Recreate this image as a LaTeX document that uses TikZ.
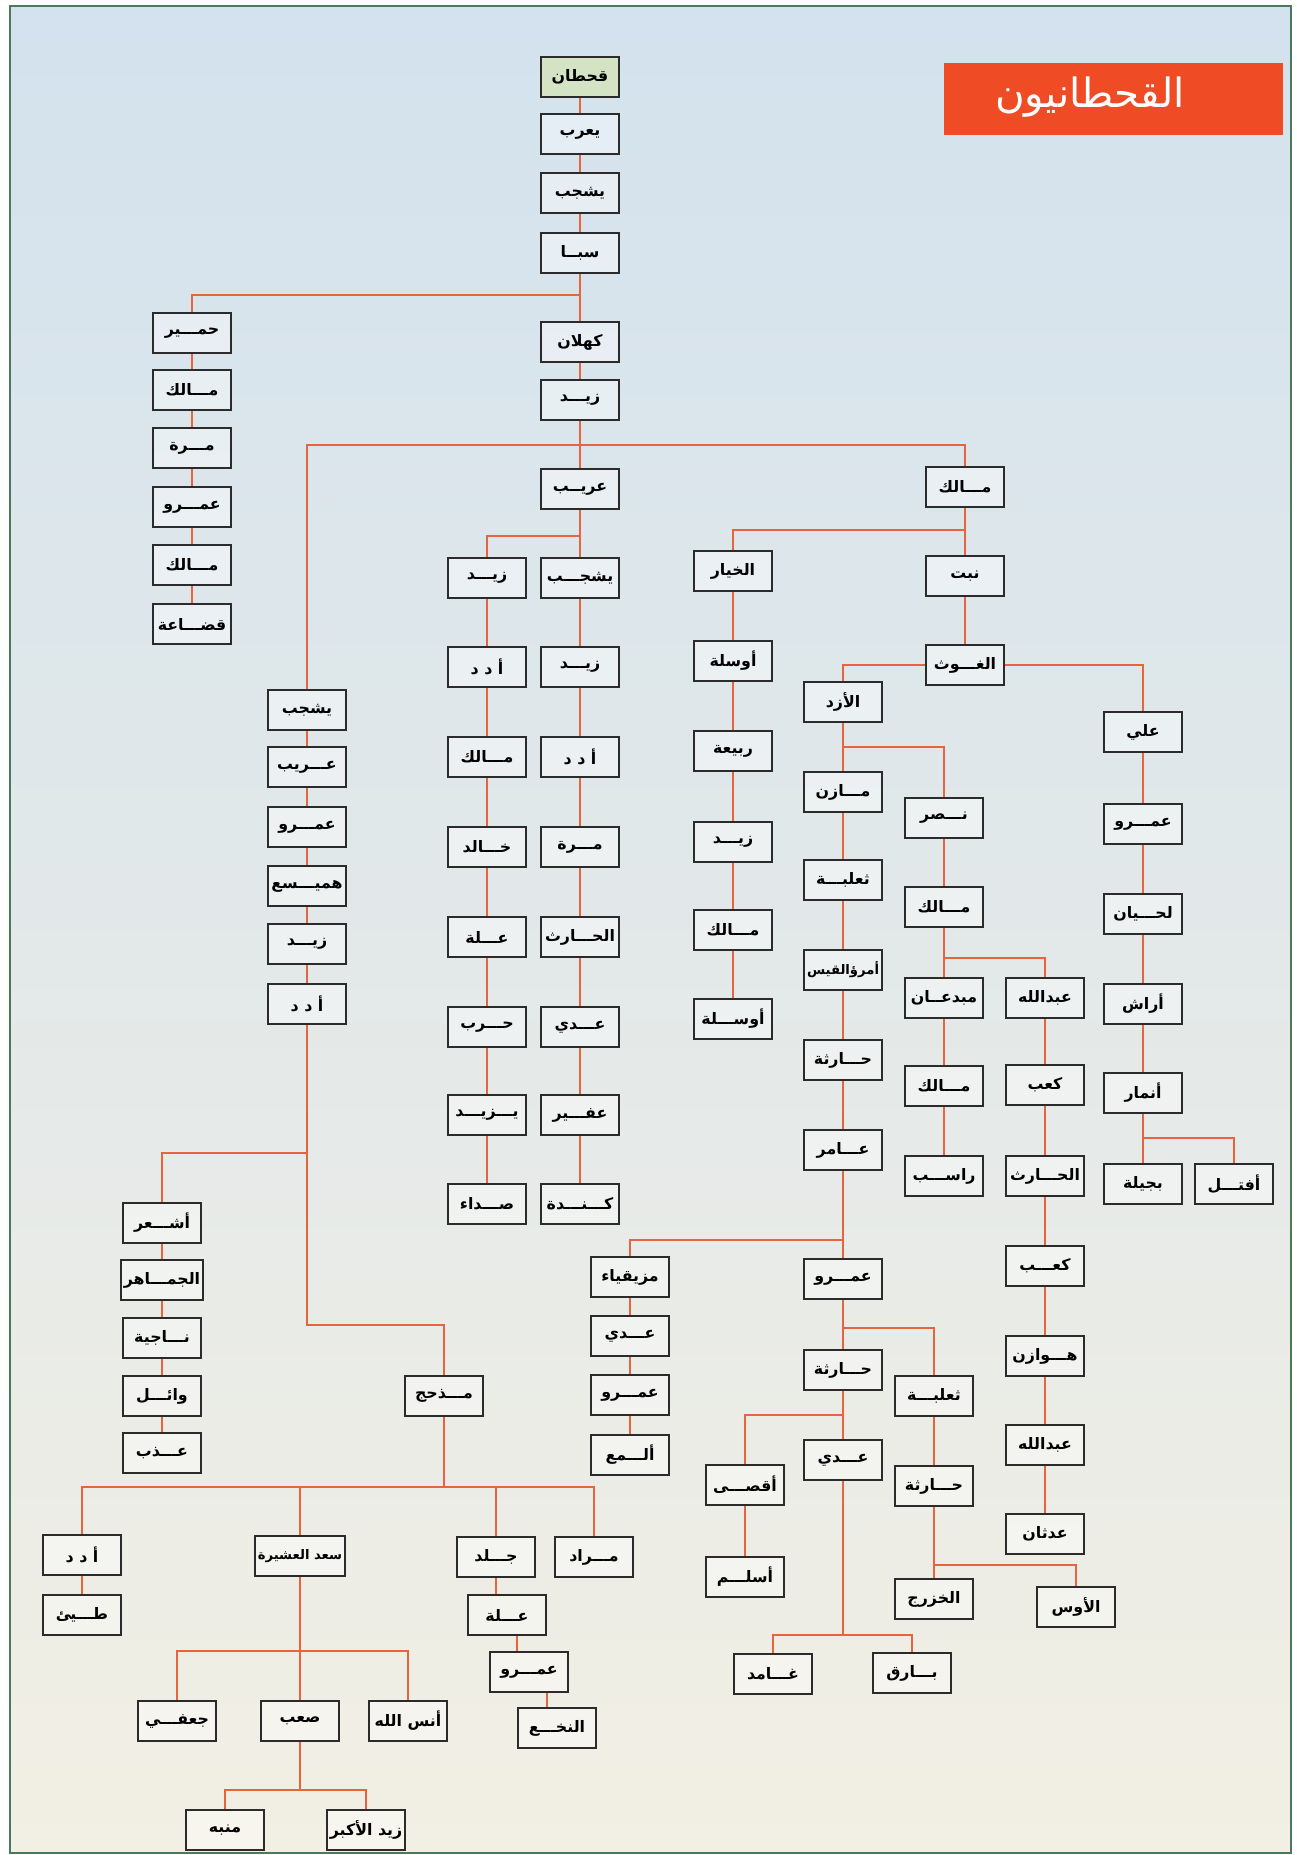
\documentclass[tikz,border=0pt]{standalone}
\usepackage{fontspec}
\newfontfamily\arabicfont[Script=Arabic]{DejaVu Sans}
\TeXXeTstate=1

\tikzset{
    person/.style={draw=boxColour, line width=1.25pt, fill=white, fill opacity=0.4, text opacity=1,
        minimum width=1.56cm, minimum height=0.8cm, inner sep=1.5pt,
        font=\arabicfont\bfseries\fontsize{9}{10}\selectfont,
        execute at begin node=\beginR, execute at end node=\endR},
    longname/.style={font=\arabicfont\bfseries\fontsize{7.5}{9}\selectfont},
    link/.style={draw=lineColour, line width=1.1pt},
}

\begin{document}
\begin{tikzpicture}[x=0.02cm, y=-0.02cm]
    \definecolor{boxColour}{HTML}{2B2B2B}
    \definecolor{lineColour}{HTML}{E8643F}
    \definecolor{rootFill}{HTML}{D3E3C4}
    \definecolor{titleColour}{HTML}{EF4B24}
    \definecolor{frameColour}{HTML}{4A7A5A}
    \definecolor{bgTop}{HTML}{D3E2EE}
    \definecolor{bgMid}{HTML}{E5EBEE}
    \definecolor{bgBottom}{HTML}{F2EFE4}

    % Page and frame
    \fill[white] (0,0) rectangle (1296,1855);
    \shade[top color=bgTop, middle color=bgMid, bottom color=bgBottom] (10,6) rectangle (1291,1853);
    \draw[frameColour, line width=1.3pt] (10,6) rectangle (1291,1853);
    \useasboundingbox (0,0) rectangle (1296,1855);

    % Title
    \fill[titleColour] (944,63) rectangle (1283,135);
    \node[text=white, font=\arabicfont\fontsize{23}{25}\selectfont] (title) at (1090,97) {\beginR القحطانيون\endR};

    % Qahtan down to Urayb
    \node[person, fill=rootFill, fill opacity=1] (qahtan) at (580,77) {قحطان};
    \foreach \nm/\yy/\tx in {yarub/134/يعرب, yashjub/193/يشجب, saba/253/سبــا, kahlan/342/كهلان,
                              zaydA/400/زيـــد, urayb/489/عريــب}
        \node[person] (\nm) at (580,\yy) {\tx};

    % Himyar line
    \foreach \nm/\yy/\tx in {himyar/333/حمـــير, malikHa/390/مـــالك, murraH/448/مـــرة,
                              amrH/507/عمـــرو, malikHb/565/مـــالك, qudaa/624/قضـــاعة}
        \node[person] (\nm) at (192,\yy) {\tx};

    % Yashjub son of Zayd
    \foreach \nm/\yy/\tx in {yashjubB/710/يشجب, uraybB/767/عـــريب, amrB/827/عمـــرو,
                              hamaysa/886/هميـــسع, zaydB/944/زيـــد, adadB/1004/أ د د}
        \node[person] (\nm) at (307,\yy) {\tx};

    % Ashar
    \foreach \nm/\yy/\tx in {ashar/1223/أشـــعر, jamahir/1280/الجمـــاهر, najiya/1338/نـــاجية,
                              wail/1396/وائـــل, udhr/1453/عـــذب}
        \node[person] (\nm) at (162,\yy) {\tx};

    % Madhhij
    \node[person] (madhhij) at (444,1396) {مـــذحج};
    \node[person] (adadM) at (82,1555) {أ د د};
    \node[person] (tayy) at (82,1615) {طـــيئ};
    \node[person, longname] (saad) at (300,1556) {سعد العشيرة};
    \node[person] (jald) at (496,1557) {جـــلد};
    \node[person] (murad) at (594,1557) {مـــراد};
    \node[person] (jufi) at (177,1721) {جعفـــي};
    \node[person] (sab) at (300,1721) {صعب};
    \node[person] (anas) at (408,1721) {أنس الله};
    \node[person] (munabbih) at (225,1830) {منبه};
    \node[person] (zaydAkbar) at (366,1830) {زيد الأكبر};
    \node[person] (ala) at (507,1615) {عـــلة};
    \node[person] (amrN) at (529,1672) {عمـــرو};
    \node[person] (nakha) at (557,1728) {النخـــع};

    % Sons of Urayb
    \foreach \nm/\yy/\tx in {zaydU/578/زيـــد, adadU/667/أ د د, malikU/757/مـــالك, khalid/847/خـــالد,
                              alaU/937/عـــلة, harb/1027/حـــرب, yazid/1115/يـــزيـــد, suda/1204/صـــداء}
        \node[person] (\nm) at (487,\yy) {\tx};
    \foreach \nm/\yy/\tx in {yashjubU/578/يشجـــب, zaydUb/667/زيـــد, adadUb/757/أ د د, murraU/847/مـــرة,
                              harith/937/الحـــارث, adiU/1027/عـــدي, ufayr/1115/عفـــير, kinda/1204/كـــنـــدة}
        \node[person] (\nm) at (580,\yy) {\tx};

    % Khiyar
    \foreach \nm/\yy/\tx in {khiyar/571/الخيار, awsala/661/أوسلة, rabia/751/ربيعة, zaydK/842/زيـــد,
                              malikK/930/مـــالك, awsalaB/1019/أوســـلة}
        \node[person] (\nm) at (733,\yy) {\tx};

    % Malik, Nabt, Ghawth
    \foreach \nm/\yy/\tx in {malikT/487/مـــالك, nabt/576/نبت, ghawth/665/الغـــوث}
        \node[person] (\nm) at (965,\yy) {\tx};

    % Azd
    \foreach \nm/\yy/\tx in {azd/702/الأزد, mazin/792/مـــازن, thalaba/880/ثعلبـــة,
                              haritha/1060/حـــارثة, amir/1150/عـــامر, amrZ/1279/عمـــرو,
                              harithaZ/1370/حـــارثة, adiZ/1460/عـــدي}
        \node[person] (\nm) at (843,\yy) {\tx};
    \node[person, longname] (imru) at (843,970) {أمرؤالقيس};
    \foreach \nm/\yy/\tx in {mazikiya/1277/مزيقياء, adiM/1336/عـــدي, amrM/1395/عمـــرو, alma/1455/ألـــمع}
        \node[person] (\nm) at (630,\yy) {\tx};
    \node[person] (aqsa) at (745,1485) {أقصـــى};
    \node[person] (aslam) at (745,1577) {أسلـــم};
    \node[person] (ghamid) at (773,1674) {غـــامد};
    \node[person] (bariq) at (912,1673) {بـــارق};
    \foreach \nm/\yy/\tx in {thalabaZ/1396/ثعلبـــة, harithaT/1486/حـــارثة, khazraj/1599/الخزرج}
        \node[person] (\nm) at (934,\yy) {\tx};
    \node[person] (aws) at (1076,1607) {الأوس};

    % Nasr
    \foreach \nm/\yy/\tx in {nasr/818/نـــصر, malikN/907/مـــالك, mubdian/998/مبدعــان,
                              malikM/1086/مـــالك, rasib/1176/راســـب}
        \node[person] (\nm) at (944,\yy) {\tx};
    \foreach \nm/\yy/\tx in {abdallah/998/عبدالله, kab/1085/كعب, harithK/1176/الحـــارث, kabB/1266/كعـــب,
                              hawazin/1356/هـــوازن, abdallahB/1445/عبدالله, adthan/1534/عدثان}
        \node[person] (\nm) at (1045,\yy) {\tx};

    % Ali
    \foreach \nm/\yy/\tx in {ali/732/علي, amrA/824/عمـــرو, lihyan/914/لحـــيان, arash/1004/أراش,
                              anmar/1093/أنمار, bajila/1184/بجيلة}
        \node[person] (\nm) at (1143,\yy) {\tx};
    \node[person] (aftal) at (1234,1184) {أفتـــل};

    % Straight links
    \foreach \a/\b in {qahtan/yarub, yarub/yashjub, yashjub/saba, saba/kahlan, kahlan/zaydA, zaydA/urayb,
                       himyar/malikHa, malikHa/murraH, murraH/amrH, amrH/malikHb, malikHb/qudaa,
                       yashjubB/uraybB, uraybB/amrB, amrB/hamaysa, hamaysa/zaydB, zaydB/adadB,
                       ashar/jamahir, jamahir/najiya, najiya/wail, wail/udhr, adadM/tayy, saad/sab,
                       urayb/yashjubU, zaydU/adadU, adadU/malikU, malikU/khalid, khalid/alaU,
                       alaU/harb, harb/yazid, yazid/suda, yashjubU/zaydUb, zaydUb/adadUb,
                       adadUb/murraU, murraU/harith, harith/adiU, adiU/ufayr, ufayr/kinda,
                       khiyar/awsala, awsala/rabia, rabia/zaydK, zaydK/malikK, malikK/awsalaB,
                       malikT/nabt, nabt/ghawth, azd/mazin, mazin/thalaba, thalaba/imru,
                       imru/haritha, haritha/amir, amir/amrZ, amrZ/harithaZ, harithaZ/adiZ,
                       mazikiya/adiM, adiM/amrM, amrM/alma, aqsa/aslam, thalabaZ/harithaT,
                       harithaT/khazraj, nasr/malikN, malikN/mubdian, mubdian/malikM, malikM/rasib,
                       abdallah/kab, kab/harithK, harithK/kabB, kabB/hawazin, hawazin/abdallahB,
                       abdallahB/adthan, ali/amrA, amrA/lihyan, lihyan/arash, arash/anmar, anmar/bajila}
        \draw[link] (\a) -- (\b);

    % Branch points
    \coordinate (jSaba) at (580,295);
    \coordinate (jZayd) at (580,445);
    \coordinate (jUrayb) at (580,536);
    \coordinate (jMalik) at (965,530);
    \coordinate (jAzd) at (843,747);
    \coordinate (jAmir) at (843,1240);
    \coordinate (jAmr) at (843,1328);
    \coordinate (jHaritha) at (843,1415);
    \coordinate (jAdi) at (843,1635);
    \coordinate (jHarT) at (934,1565);
    \coordinate (jMalikN) at (944,958);
    \coordinate (jAnmar) at (1143,1138);
    \coordinate (jAdad) at (307,1153);
    \coordinate (jAdadB) at (307,1325);
    \coordinate (jMad) at (444,1487);
    \coordinate (jSaad) at (300,1651);
    \coordinate (jSab) at (300,1790);

    \draw[link] (jSaba) -| (himyar.north);
    \draw[link] (yashjubB.north) |- (jZayd) -| (malikT.north);
    \draw[link] (jUrayb) -| (zaydU.north);
    \draw[link] (jMalik) -| (khiyar.north);
    \draw[link] (ghawth.west) -| (azd.north);
    \draw[link] (ghawth.east) -| (ali.north);
    \draw[link] (jAzd) -| (nasr.north);
    \draw[link] (jAmir) -| (mazikiya.north);
    \draw[link] (jAmr) -| (thalabaZ.north);
    \draw[link] (jHaritha) -| (aqsa.north);
    \draw[link] (adiZ) -- (jAdi);
    \draw[link] (ghamid.north) |- (jAdi) -| (bariq.north);
    \draw[link] (jHarT) -| (aws.north);
    \draw[link] (jMalikN) -| (abdallah.north);
    \draw[link] (jAnmar) -| (aftal.north);

    % Adad to Ashar and Madhhij
    \draw[link] (adadB) -- (jAdadB) -| (madhhij.north);
    \draw[link] (jAdad) -| (ashar.north);
    \draw[link] (madhhij) -- (jMad);
    \draw[link] (adadM.north) |- (jMad) -| (murad.north);
    \draw[link] (saad.north) -- (saad.north |- jMad);
    \draw[link] (jald.north) -- (jald.north |- jMad);
    \draw[link] (jufi.north) |- (jSaad) -| (anas.north);
    \draw[link] (sab) -- (jSab);
    \draw[link] (munabbih.north) |- (jSab) -| (zaydAkbar.north);
    \draw[link] (jald.south) -- (jald.south |- ala.north);
    \draw[link] ([xshift=0.2cm]ala.south) -- ([xshift=0.2cm]ala.south |- amrN.north);
    \draw[link] ([xshift=0.36cm]amrN.south) -- ([xshift=0.36cm]amrN.south |- nakha.north);

\end{tikzpicture}
\end{document}
